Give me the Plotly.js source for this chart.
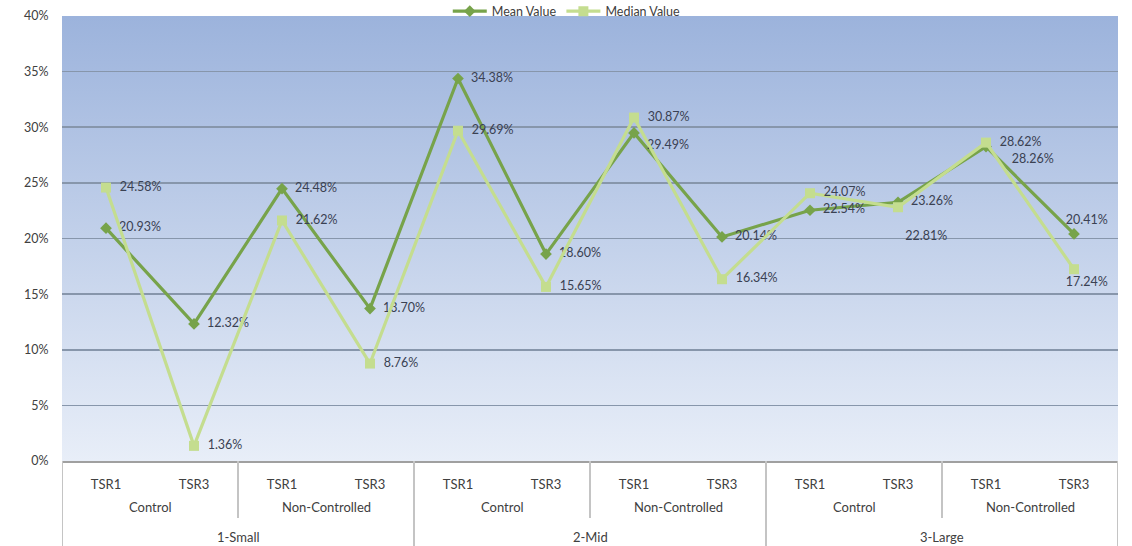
<!DOCTYPE html>
<html>
<head>
<meta charset="utf-8">
<script src="https://cdn.plot.ly/plotly-3.0.1.min.js"></script>
<style>
html,body{margin:0;padding:0;background:#fff;}
#chart{width:1132px;height:546px;}
</style>
</head>
<body>
<div id="chart"></div>
<script>
// ---- data ----
var tsrLabels = ["TSR1","TSR3","TSR1","TSR3","TSR1","TSR3","TSR1","TSR3","TSR1","TSR3","TSR1","TSR3"];
var controlGroups = ["Control","Non-Controlled","Control","Non-Controlled","Control","Non-Controlled"];
var sizeGroups = ["1-Small","2-Mid","3-Large"];
var meanValues = [20.93, 12.32, 24.48, 13.70, 34.38, 18.60, 29.49, 20.14, 22.54, 23.26, 28.26, 20.41];
var medianValues = [24.58, 1.36, 21.62, 8.76, 29.69, 15.65, 30.87, 16.34, 24.07, 22.81, 28.62, 17.24];

// ---- styling ----
var FONT = "Lato, 'Open Sans', sans-serif";
var idx = tsrLabels.map(function(_, i){ return i; });
var PAD = "\u00a0\u00a0";
var PAD8 = PAD + PAD + PAD + PAD;
function fmt(v){ return PAD + v.toFixed(2) + "%"; }

var meanPos = idx.map(function(){ return "middle right"; });
meanPos[6] = "bottom right";
meanPos[10] = "bottom right";
meanPos[11] = "top center";
var medianPos = idx.map(function(){ return "middle right"; });
medianPos[9] = "bottom right";
medianPos[11] = "bottom center";

var meanText = meanValues.map(fmt);
meanText[10] = PAD + PAD + PAD + meanValues[10].toFixed(2) + "%";
meanText[11] = PAD8 + meanValues[11].toFixed(2) + "%";
var medianText = medianValues.map(fmt);
medianText[9] = PAD + "<br>" + medianValues[9].toFixed(2) + "%";
medianText[11] = PAD8 + medianValues[11].toFixed(2) + "%";

var TF = {family: FONT, size: 12.5, color: "#3a4152"};
var meanTrace = {
  x: idx, y: meanValues, name: "Mean Value", type: "scatter", mode: "lines+markers+text",
  line: {color: "#77a34a", width: 3.2},
  marker: {symbol: "diamond", size: 9, color: "#77a34a"},
  text: meanText, textposition: meanPos, textfont: TF, cliponaxis: false
};
var medianTrace = {
  x: idx, y: medianValues, name: "Median Value", type: "scatter", mode: "lines+markers+text",
  line: {color: "#c4dd8f", width: 3.2},
  marker: {symbol: "square", size: 10, color: "#c4dd8f"},
  text: medianText, textposition: medianPos, textfont: TF, cliponaxis: false
};

// plot-area geometry (pixels) for relative placement of the category levels
var plotTop = 16, plotBottom = 461, H = 546;
var plotH = plotBottom - plotTop;
function py(pix){ return -(pix - plotBottom) / plotH; }

var shapes = [];
var annotations = [];
var perControl = tsrLabels.length / controlGroups.length;
var perSize = tsrLabels.length / sizeGroups.length;
var LBL = {family: FONT, size: 13, color: "#404040"};
controlGroups.forEach(function(g, i){
  var start = i * perControl - 0.5;
  annotations.push({xref: "x", yref: "paper", x: start + perControl/2, y: py(507), text: g,
    showarrow: false, font: LBL, yanchor: "middle"});
  if (i > 0 && (i * perControl) % perSize !== 0) {
    shapes.push({type: "line", xref: "x", yref: "paper", x0: start, x1: start, y0: 0, y1: py(518),
      line: {color: "#c4c4c4", width: 2}});
  }
});
sizeGroups.forEach(function(g, i){
  var start = i * perSize - 0.5;
  annotations.push({xref: "x", yref: "paper", x: start + perSize/2, y: py(537), text: g,
    showarrow: false, font: LBL, yanchor: "middle"});
  shapes.push({type: "line", xref: "x", yref: "paper", x0: start, x1: start, y0: 0, y1: py(H),
    line: {color: "#c4c4c4", width: 2}});
});
shapes.push({type: "line", xref: "x", yref: "paper", x0: tsrLabels.length - 0.5, x1: tsrLabels.length - 0.5,
  y0: 0, y1: py(H), line: {color: "#c4c4c4", width: 2}});

var gradSvg = '<svg xmlns="http://www.w3.org/2000/svg" width="10" height="100" preserveAspectRatio="none">' +
  '<defs><linearGradient id="g" x1="0" y1="0" x2="0" y2="1">' +
  '<stop offset="0" stop-color="#9cb3dc"/><stop offset="1" stop-color="#e8eef8"/></linearGradient></defs>' +
  '<rect width="10" height="100" fill="url(#g)"/></svg>';

var layout = {
  width: 1132, height: 546,
  margin: {l: 62, r: 14, t: plotTop, b: H - plotBottom, pad: 0, autoexpand: false},
  paper_bgcolor: "#ffffff",
  plot_bgcolor: "rgba(0,0,0,0)",
  font: {family: FONT, size: 12, color: "#404040"},
  showlegend: true,
  legend: {orientation: "h", x: 0.478, xanchor: "center", y: 1.01, yanchor: "middle",
    bgcolor: "rgba(0,0,0,0)", font: {family: FONT, size: 12.5, color: "#404040"},
    itemwidth: 34, tracegroupgap: 0},
  xaxis: {
    range: [-0.5, tsrLabels.length - 0.5], tickvals: idx, ticktext: tsrLabels,
    showgrid: false, zeroline: false, showline: true, linecolor: "#a0a0a0", linewidth: 1.5,
    ticks: "outside", ticklen: 11, tickcolor: "rgba(0,0,0,0)",
    tickfont: LBL, fixedrange: true
  },
  yaxis: {
    range: [0, 40], dtick: 5, ticksuffix: "%", showgrid: true, gridcolor: "#8796ab", gridwidth: 1.6,
    zeroline: false, showline: false, ticks: "outside", ticklen: 10, tickcolor: "rgba(0,0,0,0)",
    tickfont: {family: FONT, size: 12.5, color: "#404040"}, fixedrange: true
  },
  images: [{source: "data:image/svg+xml;base64," + btoa(gradSvg), xref: "paper", yref: "paper",
    x: 0, y: 1, sizex: 1, sizey: 1, xanchor: "left", yanchor: "top", sizing: "stretch", layer: "below"}],
  shapes: shapes,
  annotations: annotations
};

Plotly.newPlot("chart", [meanTrace, medianTrace], layout, {displayModeBar: false, staticPlot: true});
</script>
</body>
</html>
